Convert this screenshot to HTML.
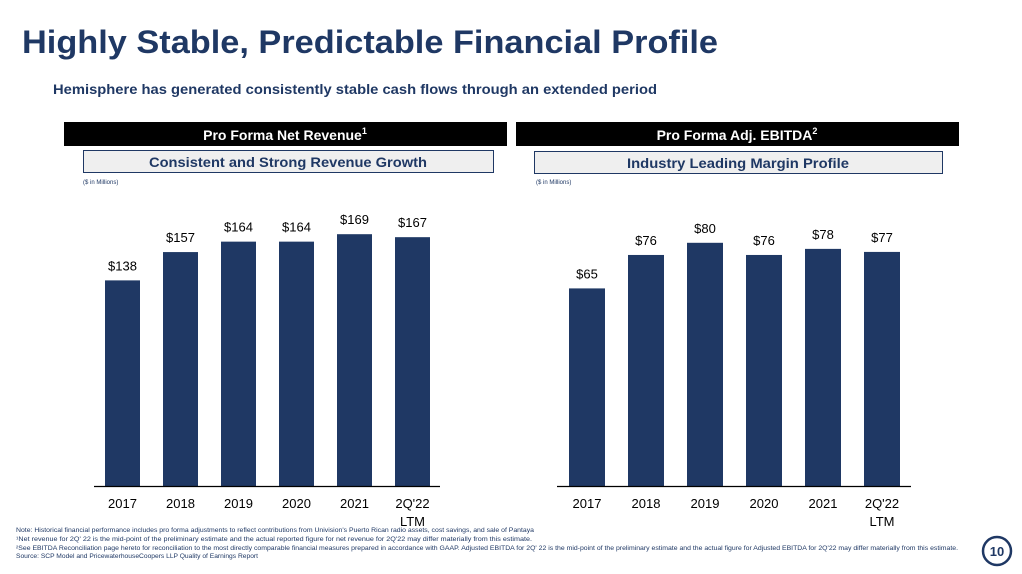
<!DOCTYPE html>
<html><head><meta charset="utf-8"><style>
html,body{margin:0;padding:0;background:#fff;width:1022px;height:574px;overflow:hidden}
svg{display:block;font-family:"Liberation Sans",sans-serif}
</style></head><body>
<svg id="s" width="1022" height="574" viewBox="0 0 1022 574">
<text x="22" y="53" font-size="32" font-weight="bold" fill="#1f3864" textLength="696" lengthAdjust="spacingAndGlyphs">Highly Stable, Predictable Financial Profile</text>
<text x="53" y="94" font-size="14" font-weight="bold" fill="#1f3864" textLength="604" lengthAdjust="spacingAndGlyphs">Hemisphere has generated consistently stable cash flows through an extended period</text>

<rect x="64" y="122" width="443" height="24" fill="#000"/>
<text x="285" y="140" font-size="14" font-weight="bold" fill="#fff" text-anchor="middle">Pro Forma Net Revenue<tspan font-size="9" dy="-6">1</tspan></text>
<rect x="83.5" y="150.5" width="410" height="22" fill="#efefef" stroke="#1f3864"/>
<text x="288" y="167" font-size="14" font-weight="bold" fill="#1f3864" text-anchor="middle" textLength="278" lengthAdjust="spacingAndGlyphs">Consistent and Strong Revenue Growth</text>
<text x="83" y="184" font-size="6" fill="#1f3864">($ in Millions)</text>

<rect x="516" y="122" width="443" height="24" fill="#000"/>
<text x="737" y="140" font-size="14" font-weight="bold" fill="#fff" text-anchor="middle">Pro Forma Adj. EBITDA<tspan font-size="9" dy="-6">2</tspan></text>
<rect x="534.5" y="151.5" width="408" height="22" fill="#efefef" stroke="#1f3864"/>
<text x="738" y="168" font-size="14" font-weight="bold" fill="#1f3864" text-anchor="middle" textLength="222" lengthAdjust="spacingAndGlyphs">Industry Leading Margin Profile</text>
<text x="536" y="184" font-size="6" fill="#1f3864">($ in Millions)</text>

<g id="c1"></g>
<g id="c2"></g>

<g font-size="6" fill="#1f3864">
<text x="16" y="532" textLength="518" lengthAdjust="spacingAndGlyphs">Note: Historical financial performance includes pro forma adjustments to reflect contributions from Univision's Puerto Rican radio assets, cost savings, and sale of Pantaya</text>
<text x="16" y="541" textLength="516" lengthAdjust="spacingAndGlyphs">¹Net revenue for 2Q' 22 is the mid-point of the preliminary estimate and the actual reported figure for net revenue for 2Q'22 may differ materially from this estimate.</text>
<text x="16" y="550" textLength="942" lengthAdjust="spacingAndGlyphs">²See EBITDA Reconciliation page hereto for reconciliation to the most directly comparable financial measures prepared in accordance with GAAP. Adjusted EBITDA for 2Q' 22 is the mid-point of the preliminary estimate and the actual figure for Adjusted EBITDA for 2Q'22 may differ materially from this estimate.</text>
<text x="16" y="558" textLength="242" lengthAdjust="spacingAndGlyphs">Source: SCP Model and PricewaterhouseCoopers LLP Quality of Earnings Report</text>
</g>
<circle cx="997" cy="551" r="14" fill="#fff" stroke="#1f3864" stroke-width="2.5"/>
<text x="997" y="556" font-size="13" font-weight="bold" fill="#1f3864" text-anchor="middle">10</text>
</svg>
<script>
const categories = ["2017","2018","2019","2020","2021","2Q'22"];
const revenueValues = [138,157,164,164,169,167];
const ebitdaValues = [65,76,80,76,78,77];
const NS="http://www.w3.org/2000/svg";
function draw(gid, vals, cfg){
  const g=document.getElementById(gid);
  const y=v=>cfg.base-v*cfg.scale;
  const mk=(t,a)=>{const e=document.createElementNS(NS,t);for(const k in a)e.setAttribute(k,a[k]);g.appendChild(e);return e;};
  vals.forEach((v,i)=>{
    const cx=cfg.x0+i*cfg.step;
    const r=mk('rect',{x:cx-cfg.bw/2,y:y(v),width:cfg.bw,height:cfg.base-y(v),fill:'#1f3864'});
    
    
    const t=mk('text',{x:cx,y:y(v)-10,'font-size':'13','text-anchor':'middle',fill:'#000'});
    t.textContent='$'+v;
    
    
    const c=mk('text',{x:cx,y:cfg.base+22,'font-size':'13','text-anchor':'middle',fill:'#000'});
    c.textContent=categories[i];
    
    
    if(i===categories.length-1){
      const l=mk('text',{x:cx,y:cfg.base+40,'font-size':'13','text-anchor':'middle',fill:'#000'});
      l.textContent='LTM';
      
      
    }
  });
  const ax=mk('line',{x1:cfg.ax1,x2:cfg.ax2,y1:cfg.base+0.5,y2:cfg.base+0.5,stroke:'#000','stroke-width':1.3});
  
  
}
draw('c1',revenueValues,{x0:122.5,step:58,bw:35,base:486,scale:1.49,ax1:94,ax2:440});
draw('c2',ebitdaValues,{x0:587,step:59,bw:36,base:486,scale:3.04,ax1:557,ax2:911});
</script>
</body></html>
